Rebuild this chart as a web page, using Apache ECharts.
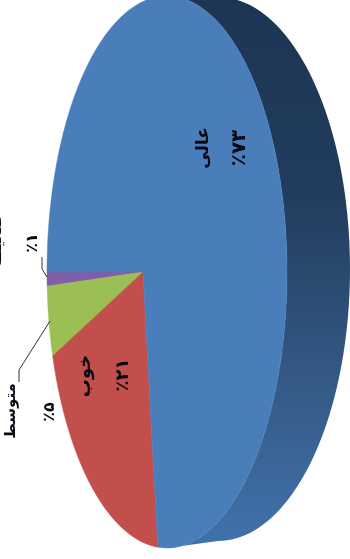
<!DOCTYPE html>
<html><head><meta charset="utf-8">
<style>html,body{margin:0;padding:0;background:#fff;overflow:hidden}#c{width:350px;height:559px;filter:blur(0.5px)}</style>
<script src="https://cdn.jsdelivr.net/npm/echarts@6/dist/echarts.min.js"></script>
</head><body><div id="c"></div>
<script>
const categories = ['ضعیف', 'متوسط', 'خوب', 'عالی'];
const values = [1, 5, 21, 73];
const percentLabels = ['٪۱', '٪۵', '٪۲۱', '٪۷۳'];
const sliceColors = ['#7f5fa8', '#9bbf55', '#c24f4b', '#4a7ebb'];

// Perspective geometry of the tilted disc
const TOP = {cx: 167, cy: 272, rx: 120, ry: 276, k: -0.2};
const BACK = {cx: 218, cy: 269, rx: 132, ry: 272};
const NAME_POS = [[-3, 241], [11, 411], [85, 376], [204, 148]];
const NAME_SIZE = [17, 15, 18, 17];
const PCT_POS = [[33, 243], [50, 412], [123, 375], [240, 148]];
const PCT_SIZE = [16, 16, 18, 20];
const LEADERS = {0: [[42, 257], [42, 269], [47, 277]], 1: [[50, 321], [19, 370], [19, 382]]};

function project(t) { // t: angle from the disc's left edge, running downward
  const c = -Math.cos(t), s = Math.sin(t), k = TOP.k;
  const d = 1 + k * c;
  const u = (c + k) / d, v = Math.sqrt(1 - k * k) * s / d;
  return [TOP.cx + TOP.rx * u, TOP.cy + TOP.ry * v];
}
const total = values.reduce((a, b) => a + b, 0);
const startOf = values.map((_, i) => values.slice(0, i).reduce((a, b) => a + b, 0));

function slicePoints(i, val) {
  const a0 = startOf[i] / total * 2 * Math.PI, a1 = a0 + val / total * 2 * Math.PI;
  const n = Math.max(2, Math.ceil(val * 3));
  const pts = [[TOP.cx + TOP.rx * TOP.k, TOP.cy]];
  for (let j = 0; j <= n; j++) pts.push(project(a0 + (a1 - a0) * j / n));
  return pts;
}
function wallPoints() {
  const pts = [];
  for (let a = -90; a <= 90; a += 2) {
    const r = a * Math.PI / 180;
    pts.push([BACK.cx + BACK.rx * Math.cos(r), BACK.cy + BACK.ry * Math.sin(r)]);
  }
  for (let a = 90; a >= -90; a -= 4) {
    const r = a * Math.PI / 180;
    pts.push([TOP.cx + TOP.rx * Math.cos(r), TOP.cy + TOP.ry * Math.sin(r)]);
  }
  return pts;
}

const chart = echarts.init(document.getElementById('c'), null, {renderer: 'canvas'});
chart.setOption({
  animation: false,
  backgroundColor: '#ffffff',
  series: [
    {
      type: 'custom', coordinateSystem: 'none', silent: true, z: 1,
      data: [0],
      renderItem: () => ({
        type: 'polygon',
        shape: {points: wallPoints()},
        style: {fill: new echarts.graphic.LinearGradient(0, 0, 0, 1, [
          {offset: 0, color: '#1d3553'},
          {offset: 0.35, color: '#213c5d'},
          {offset: 0.7, color: '#345a85'},
          {offset: 1, color: '#4172ad'}
        ])}
      })
    },
    {
      type: 'custom', coordinateSystem: 'none', silent: true, z: 2,
      data: values.map((v, i) => ({name: categories[i], value: [i, v]})),
      renderItem: (params, api) => {
        const i = api.value(0), v = api.value(1);
        return {
          type: 'polygon',
          shape: {points: slicePoints(i, v)},
          style: {fill: sliceColors[i], stroke: sliceColors[i], lineWidth: 0.5}
        };
      }
    },
    {
      type: 'custom', coordinateSystem: 'none', silent: true, z: 3,
      data: values.map((v, i) => i),
      renderItem: (params, api) => {
        const i = api.value(0);
        const text = (s, p, size) => ({
          type: 'text', x: p[0], y: p[1], rotation: Math.PI / 2,
          style: {text: s, font: 'bold ' + size + 'px "DejaVu Sans"', fill: '#0a0a14', align: 'center', verticalAlign: 'middle'}
        });
        const children = [
          text(categories[i], NAME_POS[i], NAME_SIZE[i]),
          text(percentLabels[i], PCT_POS[i], PCT_SIZE[i])
        ];
        if (LEADERS[i]) children.push({
          type: 'polyline', shape: {points: LEADERS[i]},
          style: {fill: null, stroke: '#333', lineWidth: 1}
        });
        return {type: 'group', children};
      }
    }
  ]
});
</script></body></html>
